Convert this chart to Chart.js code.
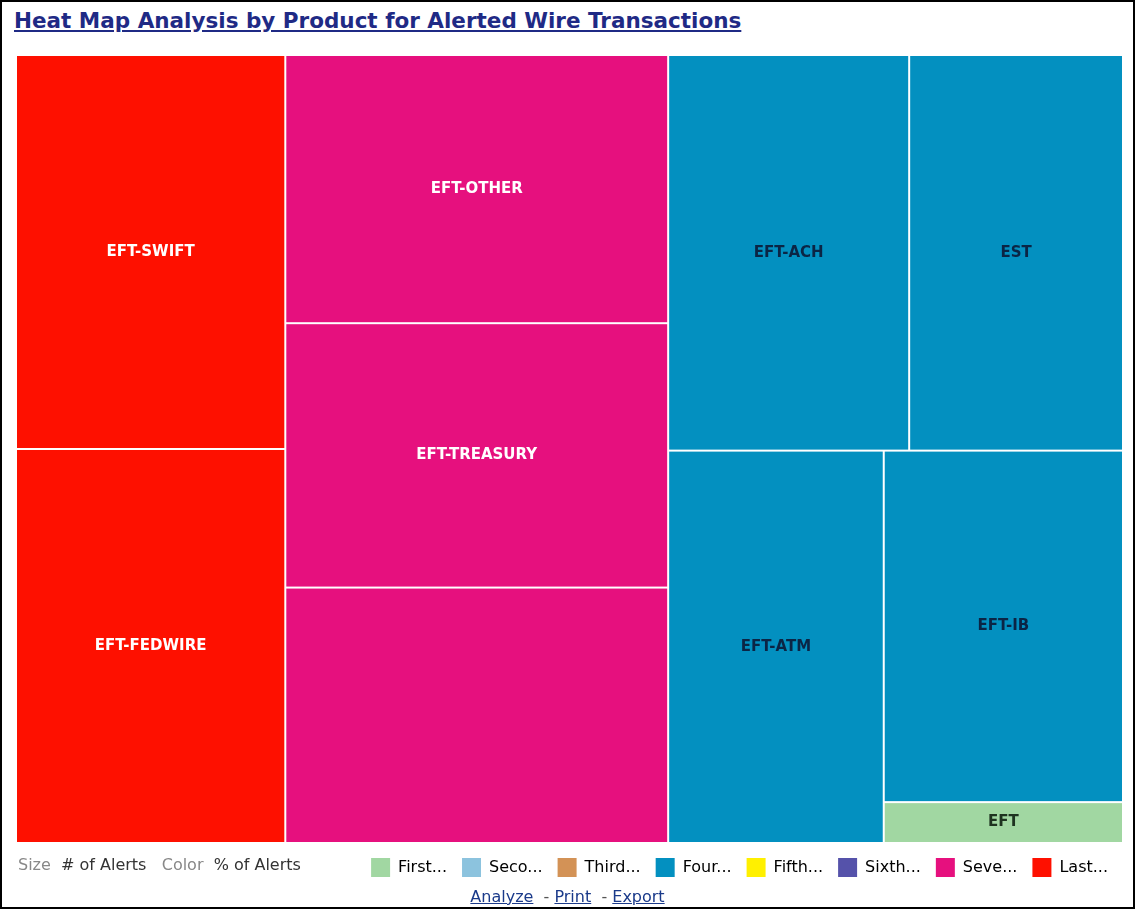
<!DOCTYPE html>
<html>
<head>
<meta charset="utf-8">
<script src="https://cdn.jsdelivr.net/npm/chart.js@4.4.1/dist/chart.umd.min.js"></script>
<style>
  body { margin: 0; background: #fff; }
  #wrap { position: relative; width: 1135px; height: 909px; overflow: hidden; font-family: "DejaVu Sans", sans-serif; }
  #frame { position: absolute; left: 0; top: 0; width: 1135px; height: 909px; box-sizing: border-box; border: 2px solid #000; pointer-events: none; }
  #title { position: absolute; left: 14px; top: 8px; font-weight: bold; font-size: 21.5px; color: #1f2a85; text-decoration: underline; white-space: nowrap; }
  #chart { position: absolute; left: 0; top: 0; }
  #sizeColor { position: absolute; left: 18px; top: 855px; font-size: 16px; color: #333; white-space: nowrap; }
  #sizeColor .k { color: #888; }
  #links { position: absolute; left: 0; width: 1135px; top: 887px; text-align: center; font-size: 16px; color: #555; }
  #links a { color: #1a3a8a; text-decoration: underline; }
</style>
</head>
<body>
<div id="wrap">
  <div id="title">Heat Map Analysis by Product for Alerted Wire Transactions</div>
  <canvas id="chart" width="1135" height="909"></canvas>
  <div id="sizeColor"><span class="k">Size</span>&nbsp; # of Alerts &nbsp;&nbsp;<span class="k">Color</span>&nbsp; % of Alerts</div>
  <div id="links"><a>Analyze</a> &nbsp;- <a>Print</a> &nbsp;- <a>Export</a></div>
  <div id="frame"></div>
</div>
<script>
// products (cells), sized by # of alerts, coloured by % of alerts bin
const products = ["EFT-SWIFT", "EFT-FEDWIRE", "EFT-OTHER", "EFT-TREASURY", "", "EFT-ACH", "EST", "EFT-ATM", "EFT-IB", "EFT"];
const alertCounts = [217, 217, 210, 207, 200, 195, 173, 173, 172, 20];
const colorBins = [7, 7, 6, 6, 6, 3, 3, 3, 3, 0];

// legend bins
const binLabels = ["First...", "Seco...", "Third...", "Four...", "Fifth...", "Sixth...", "Seve...", "Last..."];

const binColors = ["#a1d7a2", "#8cc3de", "#d39256", "#0390c0", "#fff000", "#5552aa", "#e6107e", "#fe1000"];
const binTextColors = ["#1e3320", "#1e3340", "#333", "#0b2545", "#333", "#fff", "#fff", "#fff"];

// squarified layout, values sorted descending
function worst(row, side) {
  let sum = 0, max = -Infinity, min = Infinity;
  row.forEach((a) => { sum += a; max = Math.max(max, a); min = Math.min(min, a); });
  const s2 = side * side;
  return Math.max((s2 * max) / (sum * sum), (sum * sum) / (s2 * min));
}

function squarify(values, x, y, w, h) {
  const total = values.reduce((a, b) => a + b, 0);
  const areas = values.map((v) => (v * w * h) / total);
  const out = [];
  let i = 0;
  while (i < areas.length) {
    const side = Math.min(w, h);
    let row = [areas[i]];
    let j = i + 1;
    while (j < areas.length && worst(row.concat(areas[j]), side) <= worst(row, side)) {
      row.push(areas[j]);
      j++;
    }
    const sum = row.reduce((a, b) => a + b, 0);
    if (w >= h) {
      const cw = sum / h;
      let cy = y;
      row.forEach((a) => { const ch = a / cw; out.push({ x: x, y: cy, w: cw, h: ch }); cy += ch; });
      x += cw; w -= cw;
    } else {
      const rh = sum / w;
      let cx = x;
      row.forEach((a) => { const rw = a / rh; out.push({ x: cx, y: y, w: rw, h: rh }); cx += rw; });
      y += rh; h -= rh;
    }
    i = j;
  }
  return out;
}

const treemapPlugin = {
  id: "treemap",
  afterDatasetsDraw(chart) {
    const { ctx, chartArea, scales } = chart;
    const W = chartArea.width, H = chartArea.height;
    const rects = squarify(alertCounts, 0, 0, W, H);

    ctx.save();
    rects.forEach((r, i) => {
      // fractions -> pixels through the chart scales
      const x0 = scales.x.getPixelForValue(r.x / W);
      const x1 = scales.x.getPixelForValue((r.x + r.w) / W);
      const y0 = scales.y.getPixelForValue(r.y / H);
      const y1 = scales.y.getPixelForValue((r.y + r.h) / H);
      const bin = colorBins[i];

      ctx.fillStyle = binColors[bin];
      ctx.fillRect(x0 + 1, y0 + 1, x1 - x0 - 2, y1 - y0 - 2);

      if (products[i]) {
        ctx.fillStyle = binTextColors[bin];
        ctx.font = "bold 15px 'DejaVu Sans'";
        ctx.textAlign = "center";
        ctx.textBaseline = "middle";
        ctx.fillText(products[i], (x0 + x1) / 2, (y0 + y1) / 2);
      }
    });
    ctx.restore();
  },
};

const ctx = document.getElementById("chart");

new Chart(ctx, {
  type: "scatter",
  data: { datasets: [{ data: [] }] },
  options: {
    responsive: false,
    animation: false,
    layout: { padding: { left: 16, right: 12, top: 55, bottom: 22 } },
    scales: {
      x: { type: "linear", min: 0, max: 1, display: false },
      y: { type: "linear", min: 0, max: 1, reverse: true, display: false },
    },
    plugins: {
      tooltip: { enabled: false },
      legend: {
        display: true,
        position: "bottom",
        align: "end",
        onClick: null,
        labels: {
          boxWidth: 19,
          boxHeight: 19,
          padding: 15,
          color: "#333",
          font: { family: "DejaVu Sans", size: 16 },
          generateLabels: () =>
            binLabels.map((t, i) => ({
              text: t,
              fillStyle: binColors[i],
              strokeStyle: binColors[i],
              lineWidth: 0,
              hidden: false,
              datasetIndex: 0,
            })),
        },
      },
    },
  },
  plugins: [treemapPlugin],
});
</script>
</body>
</html>
